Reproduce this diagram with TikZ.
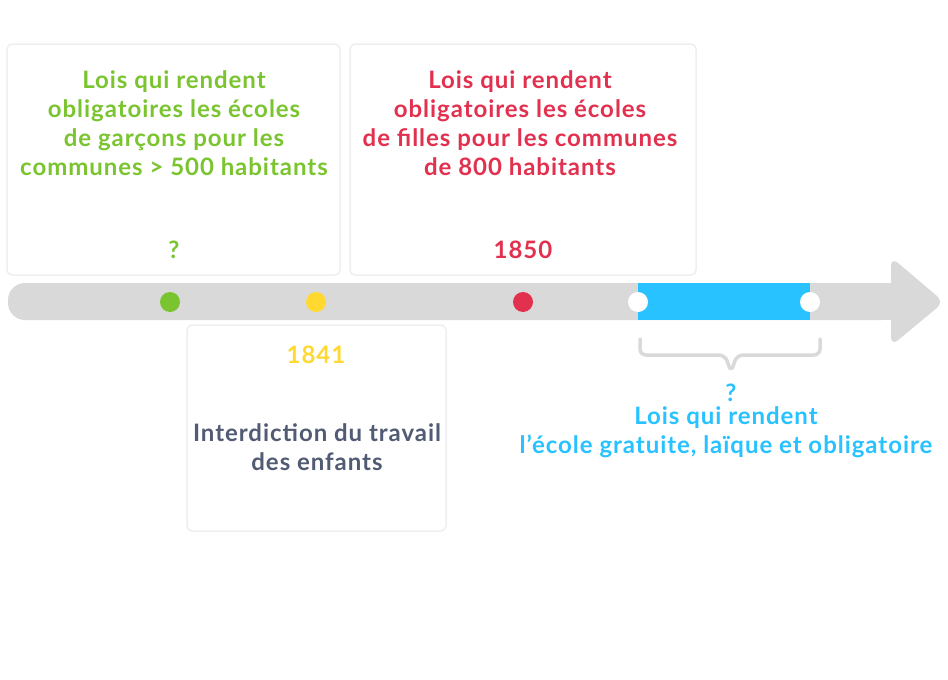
\documentclass[tikz,border=0pt]{standalone}
\usepackage{fontspec}
\setmainfont{Lato}[BoldFont={Lato Bold},LetterSpace=4]
\definecolor{cgreen}{HTML}{7AC52F}
\definecolor{cred}{HTML}{E2304F}
\definecolor{cyellow}{HTML}{FFD92F}
\definecolor{cblue}{HTML}{27C2FF}
\definecolor{ctext}{HTML}{525B74}
\definecolor{cbar}{HTML}{D9D9D9}
\definecolor{cbrd}{HTML}{EFEFEF}
\begin{document}
\begin{tikzpicture}[x=1pt,y=-1pt,
  card/.style={draw=cbrd,line width=1.5pt,rounded corners=5pt,fill=white},
  txt/.style={font=\fontsize{24}{29}\selectfont\bfseries,align=center,inner sep=0pt},
  dot/.style={circle,inner sep=0pt,minimum size=20pt}]
\useasboundingbox[fill=white] (0,0) rectangle (948,680);
% cards
\draw[card] (7,44) rectangle (340,275);
\draw[card] (350,44) rectangle (696,275);
\draw[card] (187,325) rectangle (446,531);
% timeline
\fill[cbar,rounded corners=17pt] (8,283) rectangle (900,320);
\fill[cbar,rounded corners=9pt] (891,257) -- (944,302) -- (891,346) -- cycle;
\fill[cbar] (880,283) rectangle (905,320);
\fill[cblue] (638,283) rectangle (810,320);
\node[dot,fill=cgreen] (g) at (170,302) {};
\node[dot,fill=cyellow] (y) at (316,302) {};
\node[dot,fill=cred] (r) at (523,302) {};
\node[dot,fill=white] (w1) at (638,302) {};
\node[dot,fill=white] (w2) at (810,302) {};
% brace
\draw[draw=cbar,line width=3.5pt,line join=round,line cap=round,rounded corners=6pt]
  (640,339) -- (640,355) -- (725,355) -- (731,372) -- (737,355) -- (820,355) -- (820,339);
% texts
\node[txt,text=cgreen] (t1) at (174,123) {Lois qui rendent\\obligatoires les écoles\\de garçons pour les\\communes > 500 habitants};
\node[txt,text=cgreen] (q1) at (174,250) {?};
\node[txt,text=cred] (t2) at (520,123) {Lois qui rendent\\obligatoires les écoles\\de filles pour les communes\\de 800 habitants};
\node[txt,text=cred] (d2) at (523,250) {1850};
\node[txt,text=cyellow] (d3) at (316,355) {1841};
\node[txt,text=ctext] (t3) at (317,447) {Interdiction du travail\\des enfants};
\node[txt,text=cblue] (q4) at (731,393) {?};
\node[txt,text=cblue] (t4) at (726,432) {Lois qui rendent\\l’école gratuite, laïque et obligatoire};
\end{tikzpicture}
\end{document}
